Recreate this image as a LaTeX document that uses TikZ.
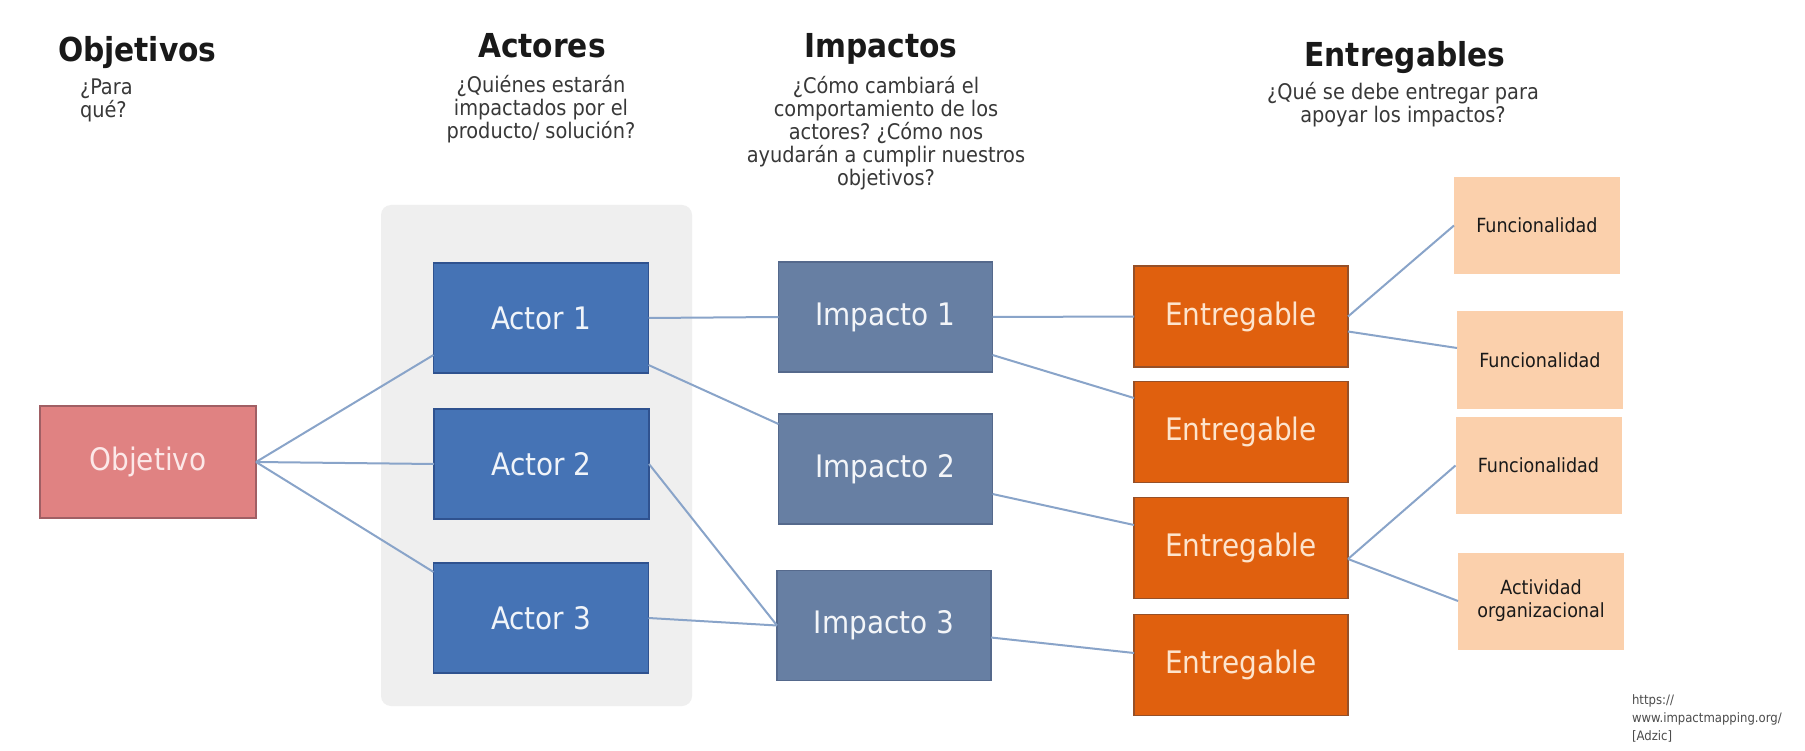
\documentclass[tikz,border=0pt]{standalone}
\usepackage{fontspec}
\setmainfont{DejaVu Sans Condensed}
\usetikzlibrary{calc}
\frenchspacing
\definecolor{objfill}{RGB}{224,130,130}
\definecolor{objdraw}{RGB}{160,95,100}
\definecolor{objtext}{RGB}{252,232,232}
\definecolor{actfill}{RGB}{69,115,181}
\definecolor{actdraw}{RGB}{47,82,143}
\definecolor{imfill}{RGB}{103,127,163}
\definecolor{imdraw}{RGB}{85,105,140}
\definecolor{enfill}{RGB}{224,96,14}
\definecolor{endraw}{RGB}{150,80,40}
\definecolor{enttext}{RGB}{253,228,205}
\definecolor{funfill}{RGB}{251,208,172}
\definecolor{panelgray}{RGB}{239,239,239}
\definecolor{linkblue}{RGB}{137,164,201}
\begin{document}
\begin{tikzpicture}[x=1pt,y=-1pt,
 every node/.style={inner sep=0pt, outer sep=0pt},
 boxbase/.style={rectangle, line width=1.4pt, align=center, font=\fontsize{31}{36}\selectfont},
 objbox/.style={boxbase, fill=objfill, draw=objdraw, text=objtext, minimum width=216pt, minimum height=112pt},
 actbox/.style={boxbase, fill=actfill, draw=actdraw, text=white!92!actfill, minimum width=215pt, minimum height=110pt},
 impbox/.style={boxbase, fill=imfill, draw=imdraw, text=white!92!imfill, minimum width=214pt, minimum height=110pt},
 entbox/.style={boxbase, fill=enfill, draw=endraw, text=enttext, minimum width=214pt, minimum height=101pt},
 funbox/.style={rectangle, fill=funfill, draw=none, text=black!90, minimum width=166pt, minimum height=97pt, align=center, font=\fontsize{19.5}{23}\selectfont},
 header/.style={font=\bfseries\fontsize{33}{40}\selectfont, text=black!90, anchor=base},
 subtext/.style={font=\fontsize{21.5}{23}\selectfont, text=black!78, align=center, anchor=base},
 conn/.style={draw=linkblue, line width=2pt}
]
\fill[white] (0,0) rectangle (1805,751);
\useasboundingbox (0,0) rectangle (1805,751);

\node[fill=panelgray, rounded corners=10pt, minimum width=311pt, minimum height=501pt] (panel) at (536.5,455.5) {};

% headers
\node[header, anchor=base west] (hobj) at (58,62) {Objetivos};
\node[header] (hact) at (542,58) {Actores};
\node[header] (himp) at (881,58) {Impactos};
\node[header] (hent) at (1405,67) {Entregables};

% subtexts (base anchor = baseline of last line)
\node[subtext, anchor=base west, align=left] (sobj) at (80,118) {¿Para\\qué?};
\node[subtext] (sact) at (541,139) {¿Quiénes estarán\\impactados por el\\producto/ solución?};
\node[subtext] (simp) at (886,186) {¿Cómo cambiará el\\comportamiento de los\\actores? ¿Cómo nos\\ayudarán a cumplir nuestros\\objetivos?};
\node[subtext] (sent) at (1403,123) {¿Qué se debe entregar para\\apoyar los impactos?};

% boxes
\node[objbox] (obj) at (148,462) {Objetivo};
\node[actbox] (a1) at (541,318) {Actor 1};
\node[actbox] (a2) at (541.5,464) {Actor 2};
\node[actbox] (a3) at (541,618) {Actor 3};
\node[impbox] (i1) at (885.5,317) {Impacto 1};
\node[impbox] (i2) at (885.5,469) {Impacto 2};
\node[impbox] (i3) at (884,625.5) {Impacto 3};
\node[entbox] (e1) at (1241,316.5) {Entregable};
\node[entbox] (e2) at (1241,432) {Entregable};
\node[entbox] (e3) at (1241,548) {Entregable};
\node[entbox] (e4) at (1241,665) {Entregable};
\node[funbox] (f1) at (1537,225.5) {Funcionalidad};
\node[funbox] (f2) at (1540,360) {Funcionalidad};
\node[funbox] (f3) at (1538.5,465.5) {Funcionalidad};
\node[funbox] (f4) at (1541,601) {Actividad\\organizacional};

% connectors
\draw[conn] (obj.east) -- ([yshift=-37pt]a1.west);
\draw[conn] (obj.east) -- (a2.west);
\draw[conn] (obj.east) -- ([yshift=46pt]a3.west);
\draw[conn] (a1.east) -- (i1.west);
\draw[conn] ([yshift=-47pt]a1.east) -- ([yshift=45pt]i2.west);
\draw[conn] (a2.east) -- (i3.west);
\draw[conn] (a3.east) -- (i3.west);
\draw[conn] (i1.east) -- (e1.west);
\draw[conn] ([yshift=-38pt]i1.east) -- ([yshift=34pt]e2.west);
\draw[conn] ([yshift=-25pt]i2.east) -- ([yshift=23pt]e3.west);
\draw[conn] ([yshift=-12pt]i3.east) -- ([yshift=12pt]e4.west);
\draw[conn] (e1.east) -- (f1.west);
\draw[conn] ([yshift=-15pt]e1.east) -- ([yshift=12pt]f2.west);
\draw[conn] ([yshift=-11pt]e3.east) -- (f3.west);
\draw[conn] ([yshift=-11pt]e3.east) -- (f4.west);

\node[font=\fontsize{13}{18}\selectfont, align=left, anchor=base west, text=black!70] (url) at (1632,740) {https://\\www.impactmapping.org/\\{[Adzic]}};
\end{tikzpicture}
\end{document}
